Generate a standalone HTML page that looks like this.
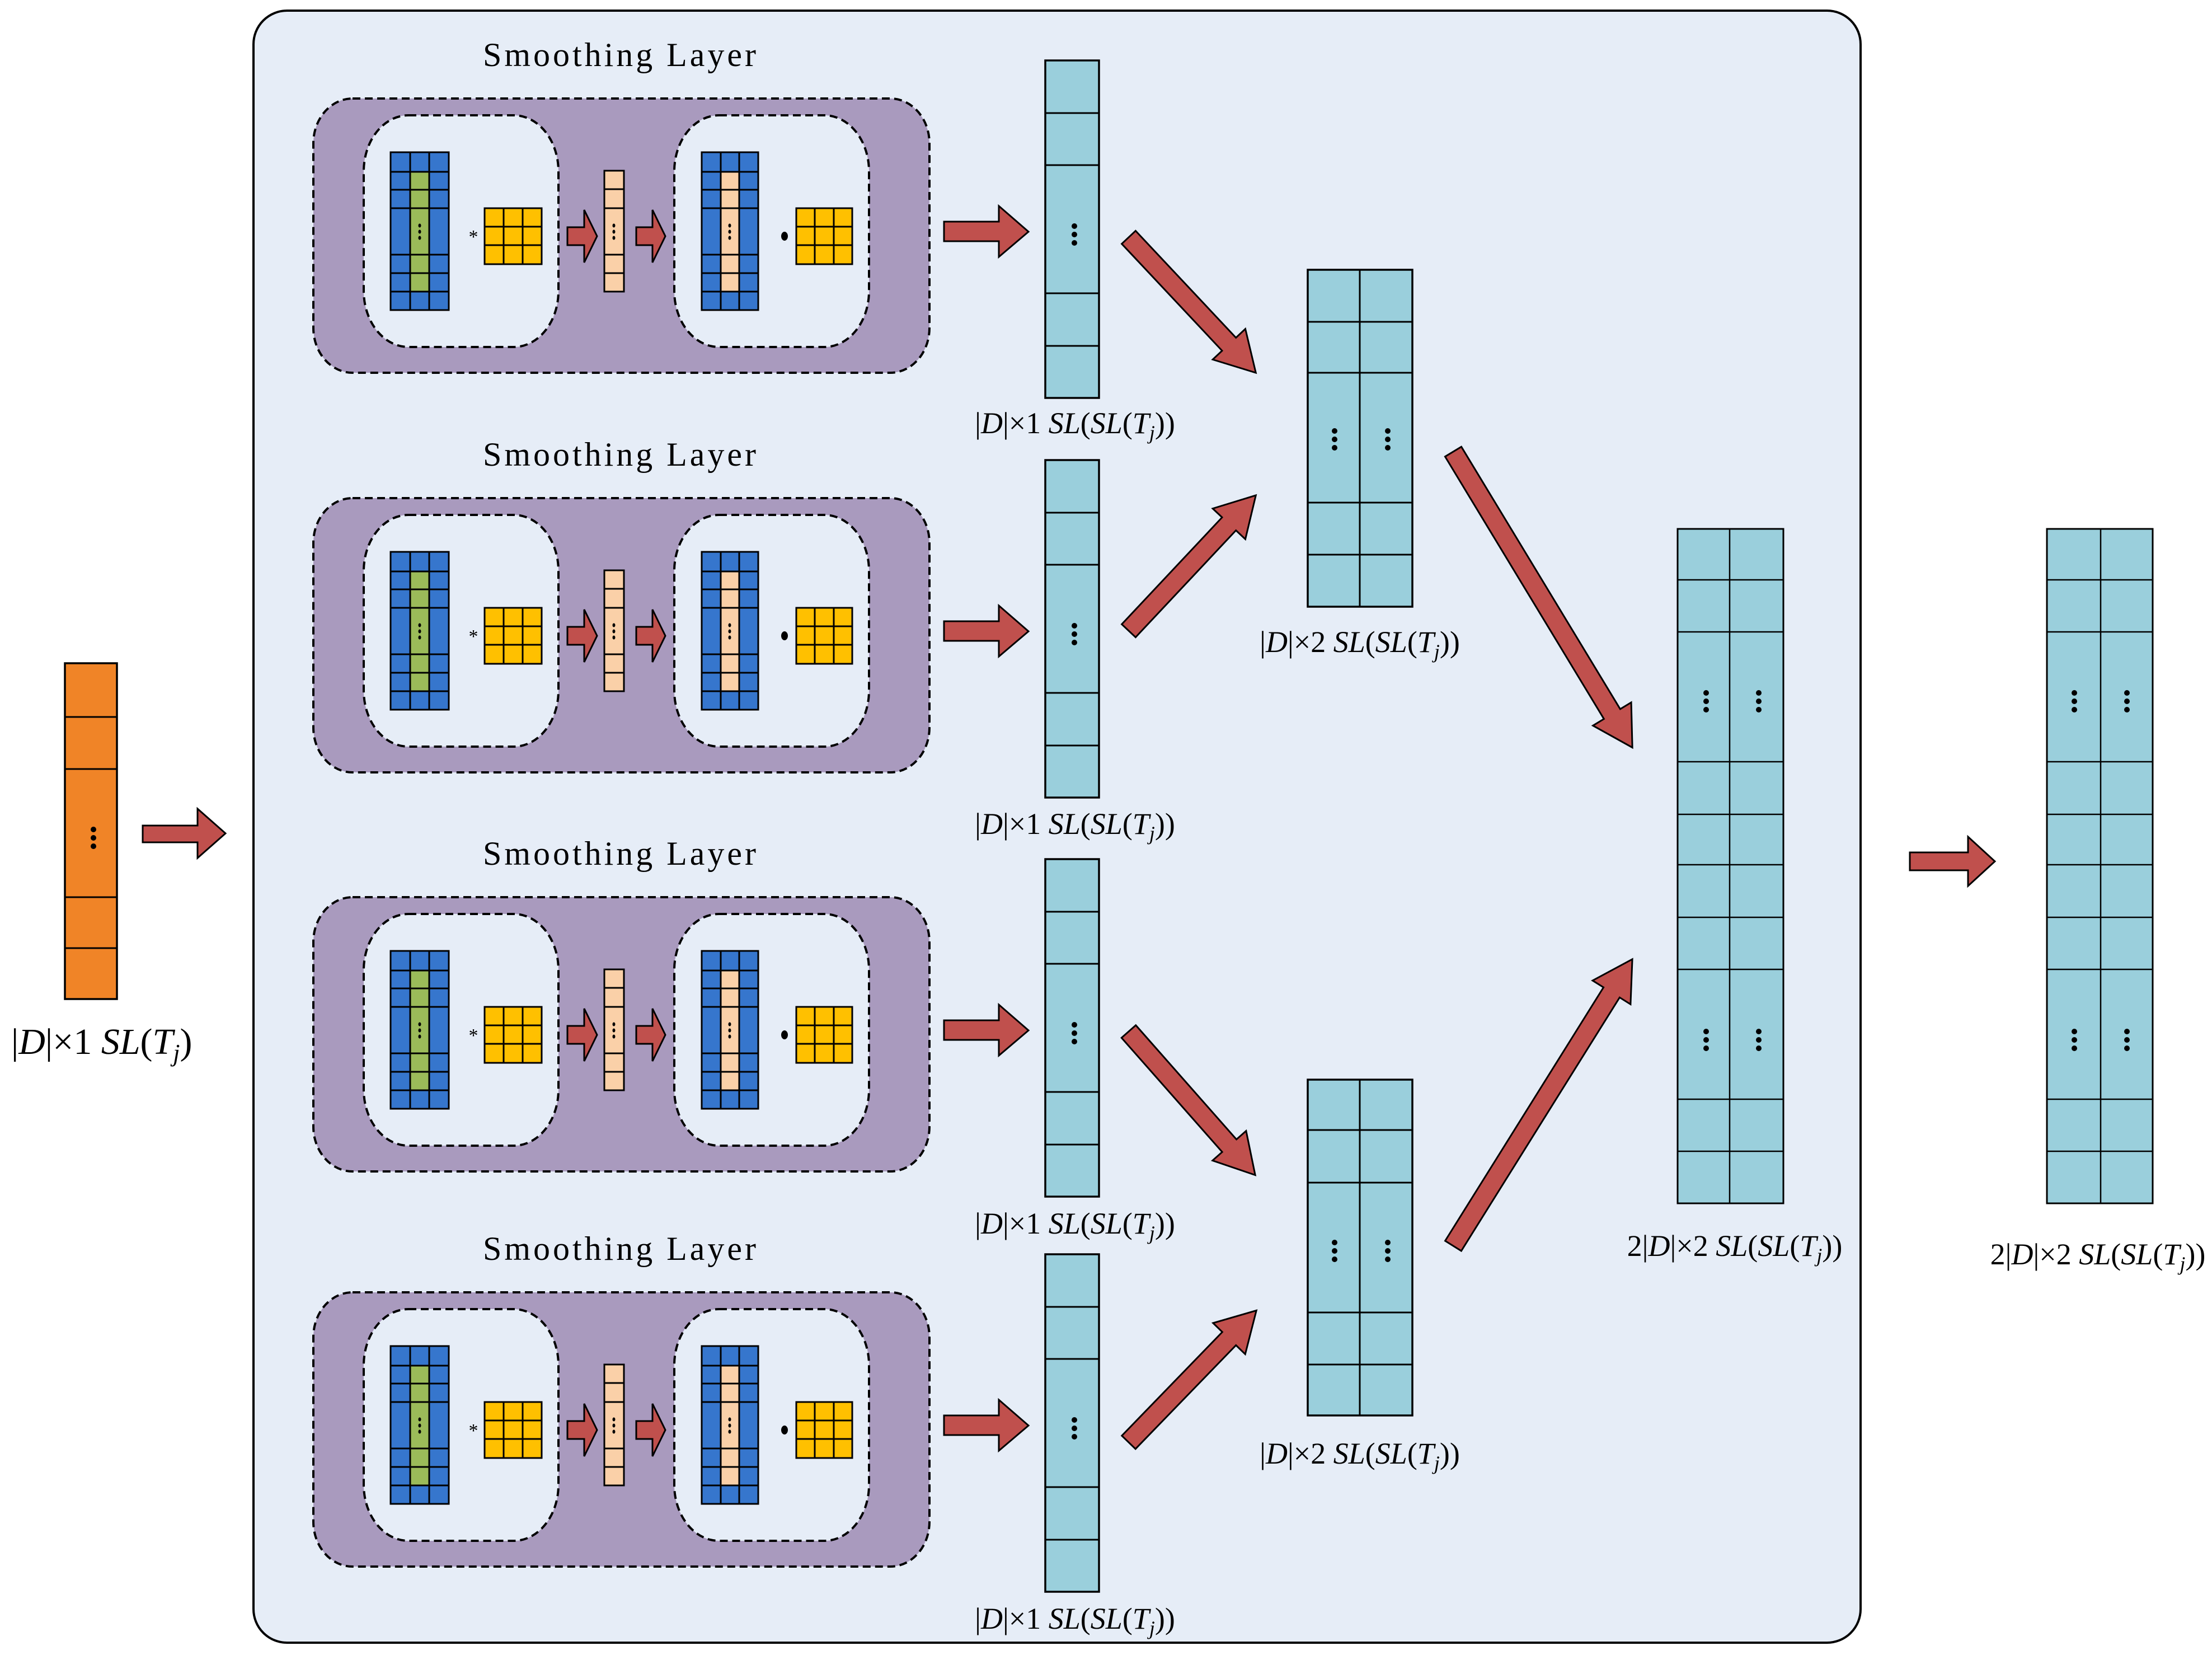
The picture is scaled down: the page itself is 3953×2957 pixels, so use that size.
<!DOCTYPE html>
<html><head><meta charset="utf-8"><style>html,body{margin:0;padding:0;background:#fff}svg{display:block}</style></head>
<body>
<svg xmlns="http://www.w3.org/2000/svg" xmlns:xlink="http://www.w3.org/1999/xlink" width="3953" height="2957" viewBox="0 0 3953 2957">
<defs>
<g id="dots3"><circle cx="0" cy="-15" r="5"/><circle cx="0" cy="0" r="5"/><circle cx="0" cy="15" r="5"/></g>
<g id="sdots"><ellipse cx="0" cy="-11" rx="2.5" ry="3.5"/><ellipse cx="0" cy="0" rx="2.5" ry="3.5"/><ellipse cx="0" cy="11" rx="2.5" ry="3.5"/></g>
<g id="block">
  <rect x="560" y="0" width="1101" height="490" rx="70" ry="80" fill="#a99abe" stroke="#000" stroke-width="4" stroke-dasharray="14 8"/>
  <rect x="650" y="30" width="348" height="414" rx="80" ry="100" fill="#e6edf7" stroke="#000" stroke-width="4" stroke-dasharray="14 8"/>
  <rect x="1205" y="30" width="348" height="414" rx="80" ry="100" fill="#e6edf7" stroke="#000" stroke-width="4" stroke-dasharray="14 8"/>
  <rect x="698" y="96" width="104" height="282" fill="#3676cd"/>
  <rect x="733" y="131" width="34" height="214" fill="#9bbb59"/>
  <g stroke="#000" stroke-width="3" fill="none">
    <rect x="698" y="96" width="104" height="282"/>
    <path d="M733 96V378M767 96V378M698 131H802M698 163H802M698 196H802M698 279H802M698 312H802M698 345H802"/>
  </g>
  <use xlink:href="#sdots" x="750" y="238"/>
  <text x="846" y="258" font-family="Liberation Serif, serif" font-size="34" text-anchor="middle">*</text>
  <rect x="866" y="196" width="102" height="100" fill="#ffc000"/>
  <g stroke="#000" stroke-width="3" fill="none">
    <rect x="866" y="196" width="102" height="100"/>
    <path d="M900 196V296M934 196V296M866 229H968M866 262H968"/>
  </g>
  <polygon points="1014,230 1044,230 1044,199 1067,246 1044,293 1044,262 1014,262" fill="#c0504d" stroke="#000" stroke-width="3"/>
  <rect x="1080" y="129" width="35" height="216" fill="#fad0a8" stroke="#000" stroke-width="3"/>
  <path d="M1080 162H1115M1080 196H1115M1080 279H1115M1080 312H1115" stroke="#000" stroke-width="3"/>
  <use xlink:href="#sdots" x="1097" y="238"/>
  <polygon points="1137,230 1166,230 1166,199 1189,246 1166,293 1166,262 1137,262" fill="#c0504d" stroke="#000" stroke-width="3"/>
  <rect x="1254" y="96" width="101" height="282" fill="#3676cd"/>
  <rect x="1288" y="131" width="33" height="214" fill="#fad0a8"/>
  <g stroke="#000" stroke-width="3" fill="none">
    <rect x="1254" y="96" width="101" height="282"/>
    <path d="M1288 96V378M1321 96V378M1254 131H1355M1254 163H1355M1254 196H1355M1254 279H1355M1254 312H1355M1254 345H1355"/>
  </g>
  <use xlink:href="#sdots" x="1304" y="238"/>
  <ellipse cx="1402" cy="246" rx="6" ry="8"/>
  <rect x="1423" y="196" width="100" height="100" fill="#ffc000"/>
  <g stroke="#000" stroke-width="3" fill="none">
    <rect x="1423" y="196" width="100" height="100"/>
    <path d="M1456 196V296M1490 196V296M1423 229H1523M1423 262H1523"/>
  </g>
  <polygon points="1687,220 1785,220 1785,192 1838,238 1785,283 1785,255 1687,255" fill="#c0504d" stroke="#000" stroke-width="3"/>
  <rect x="1868" y="-68" width="96" height="603" fill="#9acfdc" stroke="#000" stroke-width="3.5"/>
  <path d="M1868 26H1964M1868 119H1964M1868 348H1964M1868 442H1964" stroke="#000" stroke-width="3"/>
  <use xlink:href="#dots3" x="1920" y="243"/>
</g>
</defs>

<rect x="453" y="19" width="2872" height="2916" rx="60" ry="60" fill="#e6edf7" stroke="#000" stroke-width="4"/>

<rect x="116" y="1185" width="93" height="600" fill="#f08427" stroke="#000" stroke-width="3.5"/>
<path d="M116 1281H209M116 1374H209M116 1603H209M116 1694H209" stroke="#000" stroke-width="3"/>
<use xlink:href="#dots3" x="167" y="1497"/>
<polygon points="255,1475 353,1475 353,1445 403,1489 353,1533 353,1505 255,1505" fill="#c0504d" stroke="#000" stroke-width="3"/>
<text x="20" y="1883" font-family="Liberation Serif, serif" font-size="66">|<tspan font-style="italic">D</tspan>|×1 <tspan font-style="italic">SL</tspan>(<tspan font-style="italic">T</tspan><tspan font-style="italic" font-size="44" dy="13">j</tspan><tspan dy="-13">)</tspan></text>

<use xlink:href="#block" x="0" y="176"/>
<use xlink:href="#block" x="0" y="890"/>
<use xlink:href="#block" x="0" y="1603"/>
<use xlink:href="#block" x="0" y="2309"/>

<g font-family="Liberation Serif, serif" font-size="60" text-anchor="middle">
<text x="1107" y="118" textLength="488" lengthAdjust="spacing">Smoothing Layer</text>
<text x="1107" y="832" textLength="488" lengthAdjust="spacing">Smoothing Layer</text>
<text x="1107" y="1545" textLength="488" lengthAdjust="spacing">Smoothing Layer</text>
<text x="1107" y="2251" textLength="488" lengthAdjust="spacing">Smoothing Layer</text>
</g>

<g font-family="Liberation Serif, serif" font-size="54" text-anchor="middle">
<text x="1921" y="774">|<tspan font-style="italic">D</tspan>|×1 <tspan font-style="italic">SL</tspan>(<tspan font-style="italic">SL</tspan>(<tspan font-style="italic">T</tspan><tspan font-style="italic" font-size="36" dy="11">j</tspan><tspan dy="-11">))</tspan></text>
<text x="1921" y="1490">|<tspan font-style="italic">D</tspan>|×1 <tspan font-style="italic">SL</tspan>(<tspan font-style="italic">SL</tspan>(<tspan font-style="italic">T</tspan><tspan font-style="italic" font-size="36" dy="11">j</tspan><tspan dy="-11">))</tspan></text>
<text x="1921" y="2204">|<tspan font-style="italic">D</tspan>|×1 <tspan font-style="italic">SL</tspan>(<tspan font-style="italic">SL</tspan>(<tspan font-style="italic">T</tspan><tspan font-style="italic" font-size="36" dy="11">j</tspan><tspan dy="-11">))</tspan></text>
<text x="1921" y="2910">|<tspan font-style="italic">D</tspan>|×1 <tspan font-style="italic">SL</tspan>(<tspan font-style="italic">SL</tspan>(<tspan font-style="italic">T</tspan><tspan font-style="italic" font-size="36" dy="11">j</tspan><tspan dy="-11">))</tspan></text>
<text x="2430" y="1165">|<tspan font-style="italic">D</tspan>|×2 <tspan font-style="italic">SL</tspan>(<tspan font-style="italic">SL</tspan>(<tspan font-style="italic">T</tspan><tspan font-style="italic" font-size="36" dy="11">j</tspan><tspan dy="-11">))</tspan></text>
<text x="2430" y="2615">|<tspan font-style="italic">D</tspan>|×2 <tspan font-style="italic">SL</tspan>(<tspan font-style="italic">SL</tspan>(<tspan font-style="italic">T</tspan><tspan font-style="italic" font-size="36" dy="11">j</tspan><tspan dy="-11">))</tspan></text>
<text x="3100" y="2244">2|<tspan font-style="italic">D</tspan>|×2 <tspan font-style="italic">SL</tspan>(<tspan font-style="italic">SL</tspan>(<tspan font-style="italic">T</tspan><tspan font-style="italic" font-size="36" dy="11">j</tspan><tspan dy="-11">))</tspan></text>
<text x="3749" y="2259">2|<tspan font-style="italic">D</tspan>|×2 <tspan font-style="italic">SL</tspan>(<tspan font-style="italic">SL</tspan>(<tspan font-style="italic">T</tspan><tspan font-style="italic" font-size="36" dy="11">j</tspan><tspan dy="-11">))</tspan></text>
</g>

<g fill="#c0504d" stroke="#000" stroke-width="3">
<g transform="translate(2017,424) rotate(46.8)"><polygon points="0,-17 262,-17 262,-40 332,0 262,40 262,17 0,17"/></g>
<g transform="translate(2017,1127) rotate(-46.8)"><polygon points="0,-17 262,-17 262,-40 332,0 262,40 262,17 0,17"/></g>
<g transform="translate(2017,1843) rotate(48.6)"><polygon points="0,-17 272,-17 272,-40 342,0 272,40 272,17 0,17"/></g>
<g transform="translate(2017,2577) rotate(-45.9)"><polygon points="0,-17 258,-17 258,-40 328,0 258,40 258,17 0,17"/></g>
<g transform="translate(2597,807) rotate(58.8)"><polygon points="0,-17 548,-17 548,-40 618,0 548,40 548,17 0,17"/></g>
<g transform="translate(2597,2226) rotate(-58)"><polygon points="0,-17 534,-17 534,-40 604,0 534,40 534,17 0,17"/></g>
<polygon points="3413,1523 3517,1523 3517,1495 3565,1539 3517,1583 3517,1555 3413,1555"/>
</g>

<rect x="2337" y="482" width="187" height="602" fill="#9acfdc" stroke="#000" stroke-width="3.5"/>
<path d="M2430 482V1084M2337 575H2524M2337 666H2524M2337 898H2524M2337 991H2524" stroke="#000" stroke-width="3"/>
<use xlink:href="#dots3" x="2385" y="785"/><use xlink:href="#dots3" x="2480" y="785"/>
<rect x="2337" y="1929" width="187" height="600" fill="#9acfdc" stroke="#000" stroke-width="3.5"/>
<path d="M2430 1929V2529M2337 2019H2524M2337 2113H2524M2337 2345H2524M2337 2438H2524" stroke="#000" stroke-width="3"/>
<use xlink:href="#dots3" x="2385" y="2235"/><use xlink:href="#dots3" x="2480" y="2235"/>
<rect x="2998" y="945" width="189" height="1205" fill="#9acfdc" stroke="#000" stroke-width="3"/>
<path d="M3091 945V2150M2998 1036H3187M2998 1129H3187M2998 1361H3187M2998 1455H3187M2998 1545H3187M2998 1639H3187M2998 1732H3187M2998 1964H3187M2998 2057H3187" stroke="#000" stroke-width="2.5"/>
<use xlink:href="#dots3" x="3049" y="1253"/><use xlink:href="#dots3" x="3143" y="1253"/>
<use xlink:href="#dots3" x="3049" y="1858"/><use xlink:href="#dots3" x="3143" y="1858"/>
<rect x="3658" y="945" width="189" height="1205" fill="#9acfdc" stroke="#000" stroke-width="3"/>
<path d="M3754 945V2150M3658 1036H3847M3658 1129H3847M3658 1361H3847M3658 1455H3847M3658 1545H3847M3658 1639H3847M3658 1732H3847M3658 1964H3847M3658 2057H3847" stroke="#000" stroke-width="2.5"/>
<use xlink:href="#dots3" x="3707" y="1253"/><use xlink:href="#dots3" x="3801" y="1253"/>
<use xlink:href="#dots3" x="3707" y="1858"/><use xlink:href="#dots3" x="3801" y="1858"/>
</svg>
</body></html>
